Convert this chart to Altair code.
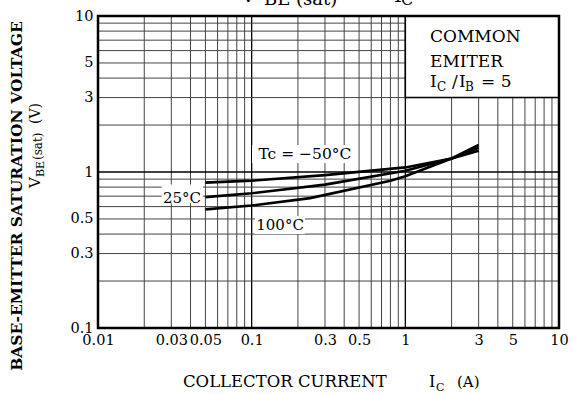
import altair as alt
import pandas as pd

FONT = "DejaVu Serif"

# ---- data ----
x_tick_labels = [0.01, 0.03, 0.05, 0.1, 0.3, 0.5, 1, 3, 5, 10]
y_tick_labels = [0.1, 0.3, 0.5, 1, 3, 5, 10]
x_grid = [0.02, 0.03, 0.04, 0.05, 0.06, 0.07, 0.08, 0.09,
          0.2, 0.3, 0.4, 0.5, 0.6, 0.7, 0.8, 0.9,
          2, 3, 4, 5, 6, 7, 8, 9]
x_grid_major = [0.1, 1]
y_grid = [0.2, 0.3, 0.4, 0.5, 0.6, 0.7, 0.8, 0.9,
          2, 3, 4, 5, 6, 7, 8, 9]
y_grid_major = [1]

ic_m50 = [0.05, 0.1, 0.3, 1, 2, 3]
vbe_m50 = [0.855, 0.88, 0.955, 1.07, 1.22, 1.37]
ic_25 = [0.05, 0.1, 0.3, 1, 2, 3]
vbe_25 = [0.69, 0.73, 0.83, 1.02, 1.22, 1.43]
ic_100 = [0.05, 0.1, 0.24, 0.8, 1, 2, 3]
vbe_100 = [0.576, 0.61, 0.68, 0.88, 0.94, 1.22, 1.49]

curves = pd.concat([
    pd.DataFrame({"ic": ic_m50, "vbe": vbe_m50, "tc": "-50"}),
    pd.DataFrame({"ic": ic_25, "vbe": vbe_25, "tc": "25"}),
    pd.DataFrame({"ic": ic_100, "vbe": vbe_100, "tc": "100"}),
])

XS = alt.Scale(type="log", domain=[0.01, 10], nice=False)
YS = alt.Scale(type="log", domain=[0.1, 10], nice=False)
XAX = alt.Axis(values=x_tick_labels, grid=False, ticks=False, domain=False,
               labelFont=FONT, labelFontSize=14.5, labelColor="black",
               labelPadding=5, labelFlush=False, labelOverlap=False,
               labelExpr="datum.value >= 1 ? format(datum.value, 'd') : format(datum.value, '.2~f')",
               title=None)
YAX = alt.Axis(values=y_tick_labels, grid=False, ticks=False, domain=False,
               labelFont=FONT, labelFontSize=14.5, labelColor="black",
               labelPadding=5, labelFlush=False, labelOverlap=False,
               labelExpr="datum.value >= 1 ? format(datum.value, 'd') : format(datum.value, '.1~f')",
               title=None)
one = pd.DataFrame({"a": [0]})

# ---- grid ----
vgrid = alt.Chart(pd.DataFrame({"gx": x_grid})).mark_rule(color="#444444", strokeWidth=1).encode(
    x=alt.X("gx:Q", scale=XS, axis=XAX))
vgrid_major = alt.Chart(pd.DataFrame({"gx": x_grid_major})).mark_rule(color="black", strokeWidth=1.3).encode(
    x=alt.X("gx:Q", scale=XS, axis=XAX))
hgrid = alt.Chart(pd.DataFrame({"gy": y_grid})).mark_rule(color="#444444", strokeWidth=1).encode(
    y=alt.Y("gy:Q", scale=YS, axis=YAX))
hgrid_major = alt.Chart(pd.DataFrame({"gy": y_grid_major})).mark_rule(color="black", strokeWidth=1.3).encode(
    y=alt.Y("gy:Q", scale=YS, axis=YAX))


def drect(x1, x2, y1, y2, **kw):
    return alt.Chart(one).mark_rect(**kw).encode(
        x=alt.XDatum(x1, type="quantitative", scale=XS, axis=XAX),
        x2=alt.X2Datum(x2),
        y=alt.YDatum(y1, type="quantitative", scale=YS, axis=YAX),
        y2=alt.Y2Datum(y2),
    )


def dtext(text, x, y, size=15, **kw):
    return alt.Chart(one).mark_text(text=text, font=FONT, fontSize=size, color="black", **kw).encode(
        x=alt.XDatum(x, type="quantitative", scale=XS, axis=XAX),
        y=alt.YDatum(y, type="quantitative", scale=YS, axis=YAX),
    )


def ptext(text, x, y, size=15, align="left", baseline="alphabetic", **kw):
    return alt.Chart(one).mark_text(text=text, font=FONT, fontSize=size, color="black",
                                    align=align, baseline=baseline, **kw).encode(
        x=alt.value(x), y=alt.value(y))


box = drect(1, 10, 3, 10, fill="white", stroke="black", strokeWidth=1.5)
bg_m50 = drect(0.1005, 0.484, 1.14, 1.49, fill="white")
bg_25 = drect(0.026, 0.0482, 0.63, 0.83, fill="white")
bg_100 = drect(0.105, 0.222, 0.40, 0.522, fill="white")

lines = alt.Chart(curves).mark_line(color="black", strokeWidth=2.6).encode(
    x=alt.X("ic:Q", scale=XS, axis=XAX),
    y=alt.Y("vbe:Q", scale=YS, axis=YAX),
    detail="tc:N",
)

frame = drect(0.01, 10, 0.1, 10, fill="white", fillOpacity=0, stroke="black", strokeWidth=2.5)

labels = [
    dtext("Tc =  −50°C", 0.222, 1.30, size=15.5, align="center", baseline="middle"),
    dtext("25°C", 0.0352, 0.685, size=15, align="center", baseline="middle"),
    dtext("100°C", 0.153, 0.457, size=15, align="center", baseline="middle"),
]

# box text (pixel positions relative to the plot area)
box_text = [
    ptext("COMMON", 332, 26, size=17),
    ptext("EMITER", 332, 51, size=17),
    ptext("I", 332, 71, size=17),
    ptext("C", 339, 75, size=12),
    ptext("/", 354, 71, size=17),
    ptext("I", 361, 71, size=17),
    ptext("B", 367, 75, size=12),
    ptext("= 5", 383, 71, size=17),
]

# x axis title
x_title = [
    ptext("COLLECTOR CURRENT", 85, 371, size=16.5),
    ptext("I", 331, 371, size=16),
    ptext("C", 338, 375, size=11),
    ptext("(A)", 359, 371, size=15),
]

# y axis title (rotated)
y_title = [
    ptext("BASE-EMITTER SATURATION VOLTAGE", -81, 180, size=15.5, align="center",
          baseline="middle", angle=270, fontWeight="bold"),
    ptext("V", -58, 172, size=15, angle=270),
    ptext("BE", -54, 161, size=11, angle=270),
    ptext("(sat)", -56, 144, size=12, angle=270),
    ptext("(V)", -58, 108, size=14, angle=270),
]

# chart title (cut off at the top edge of the page)
top_title = [
    ptext("V", 143, -14, size=20),
    ptext("BE (sat)", 166, -11, size=18),
    ptext("—", 270, -17, size=16),
    ptext("I", 296, -14, size=20),
    ptext("C", 303, -11, size=16),
]

chart = alt.layer(
    vgrid, vgrid_major, hgrid, hgrid_major,
    box, bg_m50, bg_25, bg_100,
    lines, frame,
    *labels, *box_text, *x_title, *y_title, *top_title,
).properties(
    width=461, height=312,
    autosize=alt.AutoSizeParams(type="none"),
    padding={"left": 98, "top": 16, "right": 14, "bottom": 66},
).configure_view(stroke=None).configure(background="white")

chart.save("out.html", embed_options={"renderer": "svg", "actions": False})
